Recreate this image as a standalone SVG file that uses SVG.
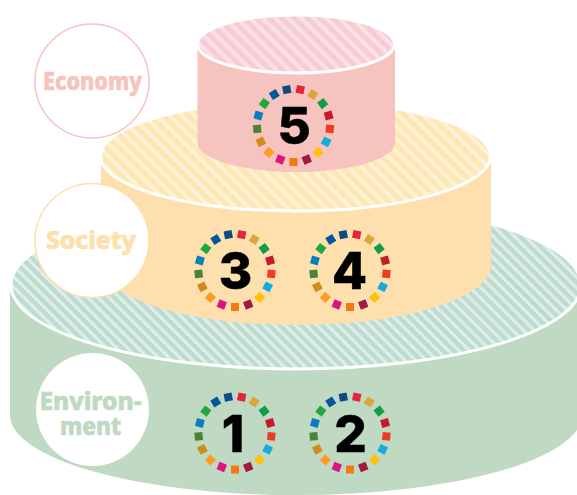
<svg xmlns="http://www.w3.org/2000/svg" width="577" height="495" viewBox="0 0 577 495">
<style>
.top{stroke:#fff;stroke-width:3}
.num{font-family:"Inter","Lato","Liberation Sans",sans-serif;font-weight:800;font-size:51px;fill:#000;stroke:#000;stroke-width:.5;text-anchor:middle}
.lab{font-family:"Noto Sans","Liberation Sans",sans-serif;font-weight:800;font-size:25px;text-anchor:middle;stroke-width:.7}
.sq{x:-4px;y:-40.500px;width:8px;height:8px}
</style>
<defs>
<pattern id="hp" width="9" height="9" patternUnits="userSpaceOnUse" patternTransform="rotate(-45)"><rect width="9" height="9" fill="#f7ccd3"/><rect width="4" height="9" fill="#f9e2e6"/></pattern>
<pattern id="hy" width="9" height="9" patternUnits="userSpaceOnUse" patternTransform="rotate(-45)"><rect width="9" height="9" fill="#fde7b2"/><rect width="4" height="9" fill="#fef2d6"/></pattern>
<pattern id="hg" width="7.500" height="7.500" patternUnits="userSpaceOnUse" patternTransform="rotate(-45)"><rect width="7.500" height="7.500" fill="#bddcd0"/><rect width="3.200" height="7.500" fill="#e0eee9"/></pattern>
<g id="ring">
<rect class="sq" fill="#e5243b" transform="rotate(10.6)"/>
<rect class="sq" fill="#dda63a" transform="rotate(31.8)"/>
<rect class="sq" fill="#0f9d48" transform="rotate(53)"/>
<rect class="sq" fill="#c5192d" transform="rotate(74.1)"/>
<rect class="sq" fill="#ef3b20" transform="rotate(95.3)"/>
<rect class="sq" fill="#14acdc" transform="rotate(116.5)"/>
<rect class="sq" fill="#fcc30b" transform="rotate(137.6)"/>
<rect class="sq" fill="#a21942" transform="rotate(158.8)"/>
<rect class="sq" fill="#f27a10" transform="rotate(180)"/>
<rect class="sq" fill="#dd1380" transform="rotate(201.2)"/>
<rect class="sq" fill="#fd9d24" transform="rotate(222.4)"/>
<rect class="sq" fill="#cf8d1a" transform="rotate(243.5)"/>
<rect class="sq" fill="#4a8438" transform="rotate(264.7)"/>
<rect class="sq" fill="#0a7dc2" transform="rotate(285.9)"/>
<rect class="sq" fill="#20a83e" transform="rotate(307)"/>
<rect class="sq" fill="#00589d" transform="rotate(328.2)"/>
<rect class="sq" fill="#0f4a86" transform="rotate(349.4)"/>
</g>
</defs>
<g id="tier-environment">
<path d="M10,285V415A286,80 0 0 0 582,415V285Z" fill="#c0d9c2"/>
<ellipse cx="296" cy="285" rx="285" ry="84" fill="url(#hg)" class="top"/>
</g>
<g id="tier-society">
<path d="M101,155V265A195,60 0 0 0 491,265V155Z" fill="#fde0ae"/>
<ellipse cx="295.500" cy="156" rx="195" ry="55" fill="url(#hy)" class="top"/>
</g>
<g id="tier-economy">
<path d="M197.500,45V143A98.750,29 0 0 0 395,143V45Z" fill="#f7c3be"/>
<ellipse cx="296" cy="44" rx="98.500" ry="29" fill="url(#hp)" class="top"/>
</g>
<g id="goal-5"><use href="#ring" transform="translate(293.500 125.500)"/><text class="num" x="294" y="144">5</text></g>
<g id="goal-3"><use href="#ring" transform="translate(235 270.500)"/><text class="num" x="235.500" y="289">3</text></g>
<g id="goal-4"><use href="#ring" transform="translate(350 270.500)"/><text class="num" x="349.500" y="289">4</text></g>
<g id="goal-1"><use href="#ring" transform="translate(235 433)"/><text class="num" x="233" y="452">1</text></g>
<g id="goal-2"><use href="#ring" transform="translate(350 433)"/><text class="num" x="350.500" y="452">2</text></g>
<g id="label-economy"><circle cx="92" cy="81" r="57" fill="#fff" stroke="#f7c3be" stroke-width="1.500"/><text class="lab" x="92.500" y="89.500" fill="#f7c3be" stroke="#f7c3be" textLength="99" lengthAdjust="spacingAndGlyphs">Economy</text></g>
<g id="label-society"><circle cx="92" cy="240.500" r="57" fill="#fff" stroke="#fde0ae" stroke-width="1.500"/><text class="lab" x="91" y="249" fill="#fde0ae" stroke="#fde0ae" textLength="90" lengthAdjust="spacingAndGlyphs">Society</text></g>
<g id="label-environment"><circle cx="92.500" cy="409.500" r="56.500" fill="#fff"/><text class="lab" style="font-size:24px" fill="#c0d9c2" stroke="#c0d9c2"><tspan x="90.500" y="410" textLength="102" lengthAdjust="spacingAndGlyphs">Environ-</tspan><tspan x="90.500" y="435" textLength="61" lengthAdjust="spacingAndGlyphs">ment</tspan></text></g>
</svg>
